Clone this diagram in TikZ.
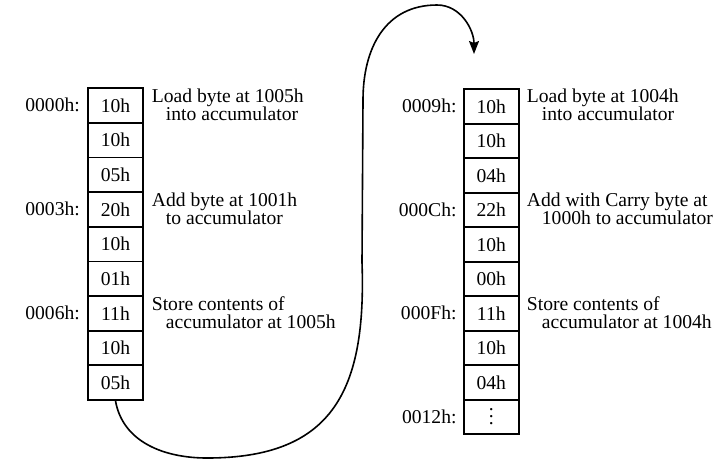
\documentclass[tikz,border=0pt]{standalone}
\usepackage{fontspec}
\setmainfont{Liberation Serif}
\usetikzlibrary{arrows.meta}
\newcommand{\tallvdots}{\vbox{\baselineskip=7pt\lineskiplimit=0pt\hbox{.}\hbox{.}\hbox{.}}}
\begin{document}
\begin{tikzpicture}[x=1pt,y=-1pt,
  txt/.style={font=\fontsize{19.6}{20}\selectfont},
  cell/.style={txt,draw,line width=1.8pt,minimum width=55pt,minimum height=34.6pt,inner sep=0pt},
  rcell/.style={cell,minimum height=34.5pt},
  addr/.style={txt,anchor=base east,inner sep=0pt},
  note/.style={txt,anchor=base west,inner sep=0pt},
  link/.style={line width=1.6pt,-{Stealth[length=13pt,width=10pt,inset=2pt]}}]
\useasboundingbox (0,0) rectangle (728,467);
% left memory column
\foreach \v [count=\i from 0] in {10h,10h,05h,20h,10h,01h,11h,10h,05h}
  \node[cell] (a\i) at (115.5,{105.6+34.63*\i}) {\v};
% right memory column
\foreach \v [count=\i from 0] in {10h,10h,04h,22h,10h,00h,11h,10h,04h}
  \node[rcell] (b\i) at (491.3,{106.55+34.5*\i}) {\v};
\node[rcell] (b9) at (491.3,{106.55+34.5*9}) {\tallvdots};
% addresses
\node[addr] (la0) at (80,111.6) {0000h:};
\node[addr] (la3) at (80,215.5) {0003h:};
\node[addr] (la6) at (80,319.4) {0006h:};
\node[addr] (lb0) at (456.7,112.6) {0009h:};
\node[addr] (lb3) at (456.7,216.1) {000Ch:};
\node[addr] (lb6) at (456.7,319.6) {000Fh:};
\node[addr] (lb9) at (456.7,423.1) {0012h:};
% notes left
\node[note] (na1) at (151.7,102.5) {Load byte at 1005h};
\node[note] (na2) at (165.7,120.5) {into accumulator};
\node[note] (na3) at (151.7,206.5) {Add byte at 1001h};
\node[note] (na4) at (165.7,224.5) {to accumulator};
\node[note] (na5) at (151.7,310) {Store contents of};
\node[note] (na6) at (165.7,328) {accumulator at 1005h};
% notes right
\node[note] (nb1) at (526.7,102) {Load byte at 1004h};
\node[note] (nb2) at (541.7,120) {into accumulator};
\node[note] (nb3) at (526.7,206.5) {Add with Carry byte at};
\node[note] (nb4) at (541.7,224.5) {1000h to accumulator};
\node[note] (nb5) at (526.7,310.5) {Store contents of};
\node[note] (nb6) at (541.7,328.5) {accumulator at 1004h};
% jump curve
\coordinate (c1) at (207,458);
\coordinate (c2) at (362,262);
\coordinate (c3) at (363,100);
\coordinate (c4) at (437,5);
\coordinate (tip) at (474,54);
\draw[link] (a8.south) to[out=-80,in=180] (c1) to[out=0,in=-88,looseness=1.3] (c2) -- (c3) to[out=90,in=180,looseness=1.1] (c4) to[out=0,in=90] (tip);
\end{tikzpicture}
\end{document}
